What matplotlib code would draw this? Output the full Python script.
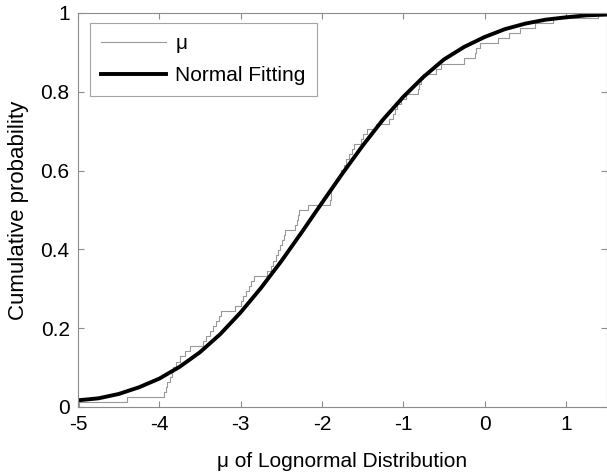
import numpy as np
import matplotlib.pyplot as plt

plt.rcParams['font.family'] = ['Liberation Sans', 'DejaVu Sans']

# sorted estimates of mu (one per fitted sample)
mu_samples = [-4.99, -4.40, -3.94, -3.92, -3.90, -3.87, -3.85, -3.83, -3.80,
              -3.75, -3.68, -3.62, -3.46, -3.42, -3.38, -3.34, -3.30, -3.27,
              -3.24, -3.07, -3.00, -2.97, -2.93, -2.90, -2.87, -2.84, -2.67,
              -2.63, -2.60, -2.57, -2.54, -2.51, -2.49, -2.47, -2.45, -2.33,
              -2.31, -2.30, -2.28, -2.17, -1.895, -1.89, -1.885, -1.88, -1.84,
              -1.79, -1.76, -1.73, -1.71, -1.67, -1.63, -1.60, -1.52, -1.49,
              -1.44, -1.33, -1.17, -1.13, -1.10, -1.08, -1.03, -0.97, -0.82,
              -0.80, -0.78, -0.76, -0.60, -0.535, -0.25, -0.12, -0.10, -0.06,
              0.165, 0.30, 0.43, 0.62, 0.84, 1.40]

# normal fitting curve
fit_x = [-5.0, -4.75, -4.5, -4.25, -4.0, -3.75, -3.5, -3.25, -3.0, -2.75,
         -2.5, -2.25, -2.0, -1.75, -1.5, -1.25, -1.0, -0.75, -0.5, -0.25,
         0.0, 0.25, 0.5, 0.75, 1.0, 1.25, 1.5]
fit_p = [0.017, 0.022, 0.033, 0.050, 0.072, 0.102, 0.139, 0.185, 0.240, 0.302,
         0.370, 0.443, 0.518, 0.592, 0.663, 0.729, 0.787, 0.838, 0.882, 0.914,
         0.939, 0.959, 0.973, 0.983, 0.989, 0.994, 0.996]

xticks = [-5, -4, -3, -2, -1, 0, 1]
yticks = [0, 0.2, 0.4, 0.6, 0.8, 1]

s = np.sort(np.array(mu_samples))
n = len(s)
step_x = np.concatenate([[-6.0], s, [3.0]])
step_y = np.concatenate([[0.0], np.arange(1, n + 1) / n, [1.0]])

fig = plt.figure(figsize=(6.07, 4.72), dpi=100)
ax = fig.add_axes([78 / 607, 1 - 407 / 472, 528.5 / 607, 394 / 472])

ax.step(step_x, step_y, where='post', color='#999999', lw=0.8, label='μ')
ax.plot(fit_x, fit_p, color='black', lw=2.8, label='Normal Fitting')

ax.set_xlim(-5, 1.5)
ax.set_ylim(0, 1)
ax.set_xticks(xticks)
ax.set_xticklabels([str(t) for t in xticks])
ax.set_yticks(yticks)
ax.set_yticklabels(['0', '0.2', '0.4', '0.6', '0.8', '1'])

for sp in ax.spines.values():
    sp.set_color('#8c8c8c')
    sp.set_linewidth(0.8)
ax.tick_params(direction='in', length=4, width=0.8, color='#8c8c8c',
               top=True, right=True, labelsize=15, labelcolor='black', pad=6)

ax.set_xlabel('μ of Lognormal Distribution', fontsize=15, labelpad=13)
ax.set_ylabel('Cumulative probability', fontsize=16, labelpad=8)

leg = ax.legend(loc='upper left', bbox_to_anchor=(12 / 528.5, 1 - 10 / 394),
                borderaxespad=0, fontsize=15, frameon=True, fancybox=False,
                handlelength=3.1, borderpad=0.55, labelspacing=0.6,
                handletextpad=0.45)
leg.get_frame().set_edgecolor('#8c8c8c')
leg.get_frame().set_linewidth(0.8)

fig.savefig('out.png', dpi=100)
